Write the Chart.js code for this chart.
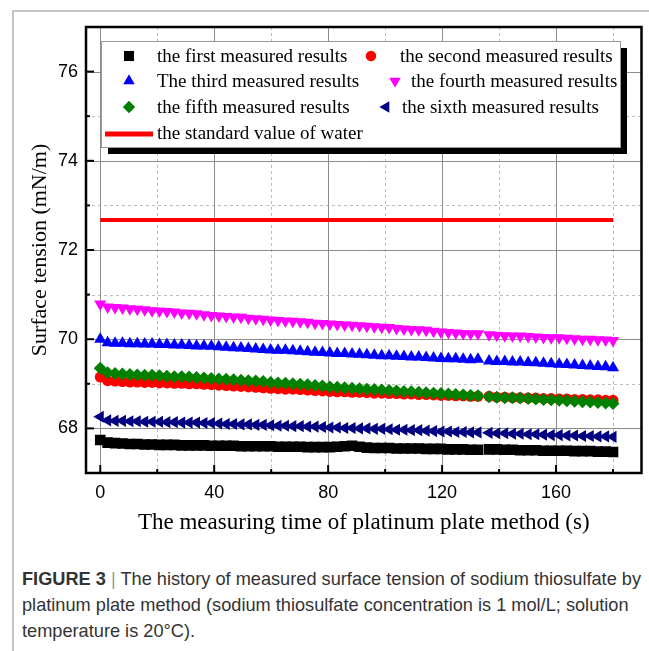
<!DOCTYPE html>
<html>
<head>
<meta charset="utf-8">
<script src="https://cdn.jsdelivr.net/npm/chart.js@4.4.1/dist/chart.umd.min.js"></script>
<style>
  html, body { margin: 0; padding: 0; background: #fff; }
  #frame {
    position: absolute; left: 12px; top: 10px; width: 637px; height: 641px;
    border-left: 2px solid #c4c4c4; border-top: 2px solid #c4c4c4;
  }
  #chart { position: absolute; left: 14px; top: 12px; }
  #caption {
    position: absolute; left: 22px; top: 566px; width: 627px;
    font-family: "Liberation Sans", Arial, sans-serif; font-size: 18.2px;
    line-height: 26px; color: #333; white-space: nowrap;
  }
  #caption b { color: #333; }
  #caption .bar { color: #999; }
</style>
</head>
<body>
<div id="frame"></div>
<canvas id="chart" width="635" height="540"></canvas>
<div id="caption"><b>FIGURE 3</b> <span class="bar">|</span> The history of measured surface tension of sodium thiosulfate by<br>platinum plate method (sodium thiosulfate concentration is 1 mol/L; solution<br>temperature is 20°C).</div>
<script>
// ------------------------------------------------------------
//  測定時間 (s) と各回の表面張力 (mN/m)
// ------------------------------------------------------------
const times = [
  0, 2.6, 5.2, 7.8, 10.4, 13, 15.6, 18.2, 20.8, 23.4,
  26, 28.6, 31.2, 33.8, 36.4, 39, 41.6, 44.2, 46.8, 49.4,
  52, 54.6, 57.2, 59.8, 62.4, 65, 67.6, 70.2, 72.8, 75.4,
  78, 80.6, 83.2, 85.8, 88.4, 91, 93.6, 96.2, 98.8, 101.4,
  104, 106.6, 109.2, 111.8, 114.4, 117, 119.6, 122.2, 124.8, 127.4,
  130, 132.6, 136.5, 139.2, 142, 144.7, 147.4, 150.2, 152.9, 155.6,
  158.3, 161.1, 163.8, 166.5, 169.3, 172, 174.7, 177.4, 180
];

const firstResults = [
  67.74, 67.68, 67.67, 67.66, 67.65, 67.65, 67.64, 67.64, 67.63, 67.63,
  67.63, 67.62, 67.62, 67.62, 67.62, 67.61, 67.61, 67.61, 67.61, 67.60,
  67.60, 67.60, 67.60, 67.60, 67.59, 67.59, 67.59, 67.59, 67.58, 67.58,
  67.58, 67.58, 67.59, 67.60, 67.61, 67.59, 67.57, 67.56, 67.56, 67.56,
  67.55, 67.55, 67.55, 67.55, 67.54, 67.54, 67.54, 67.53, 67.53, 67.53,
  67.52, 67.52, 67.53, 67.53, 67.52, 67.52, 67.51, 67.51, 67.51, 67.50,
  67.50, 67.50, 67.50, 67.49, 67.49, 67.49, 67.48, 67.48, 67.47
];

const secondResults = [
  69.15, 69.07, 69.06, 69.05, 69.04, 69.04, 69.03, 69.03, 69.02, 69.02,
  69.01, 69.01, 69.00, 69.00, 68.99, 68.98, 68.97, 68.96, 68.95, 68.94,
  68.93, 68.92, 68.91, 68.90, 68.89, 68.88, 68.88, 68.87, 68.86, 68.85,
  68.84, 68.83, 68.82, 68.82, 68.81, 68.81, 68.80, 68.79, 68.79, 68.78,
  68.78, 68.77, 68.77, 68.76, 68.76, 68.75, 68.74, 68.74, 68.73, 68.73,
  68.72, 68.72, 68.72, 68.70, 68.70, 68.69, 68.69, 68.68, 68.68, 68.67,
  68.67, 68.66, 68.66, 68.65, 68.65, 68.64, 68.64, 68.63, 68.63
];

const thirdResults = [
  70.00, 69.92, 69.91, 69.91, 69.90, 69.90, 69.89, 69.89, 69.88, 69.88,
  69.87, 69.87, 69.86, 69.85, 69.85, 69.84, 69.83, 69.82, 69.81, 69.80,
  69.79, 69.78, 69.77, 69.76, 69.75, 69.75, 69.74, 69.73, 69.72, 69.71,
  69.70, 69.69, 69.68, 69.68, 69.67, 69.66, 69.65, 69.64, 69.63, 69.63,
  69.62, 69.61, 69.60, 69.60, 69.59, 69.58, 69.57, 69.56, 69.56, 69.55,
  69.54, 69.55, 69.51, 69.50, 69.50, 69.49, 69.49, 69.48, 69.47, 69.46,
  69.45, 69.44, 69.43, 69.42, 69.41, 69.40, 69.39, 69.38, 69.36
];

const fourthResults = [
  70.79, 70.72, 70.71, 70.70, 70.68, 70.67, 70.66, 70.64, 70.63, 70.62,
  70.61, 70.59, 70.58, 70.57, 70.55, 70.53, 70.52, 70.51, 70.50, 70.49,
  70.47, 70.46, 70.45, 70.43, 70.42, 70.41, 70.40, 70.39, 70.38, 70.36,
  70.35, 70.34, 70.33, 70.32, 70.31, 70.30, 70.29, 70.28, 70.27, 70.26,
  70.24, 70.23, 70.22, 70.21, 70.20, 70.18, 70.16, 70.15, 70.14, 70.13,
  70.12, 70.12, 70.10, 70.09, 70.08, 70.07, 70.07, 70.06, 70.05, 70.04,
  70.03, 70.03, 70.02, 70.01, 70.00, 70.00, 69.99, 69.98, 69.97
];

const fifthResults = [
  69.35, 69.25, 69.23, 69.22, 69.21, 69.20, 69.19, 69.19, 69.18, 69.17,
  69.16, 69.16, 69.15, 69.14, 69.13, 69.12, 69.11, 69.10, 69.09, 69.08,
  69.07, 69.06, 69.05, 69.03, 69.02, 69.01, 69.00, 68.99, 68.98, 68.96,
  68.95, 68.93, 68.92, 68.91, 68.90, 68.89, 68.88, 68.87, 68.86, 68.85,
  68.84, 68.83, 68.82, 68.81, 68.80, 68.79, 68.78, 68.77, 68.76, 68.75,
  68.74, 68.73, 68.71, 68.70, 68.69, 68.69, 68.68, 68.67, 68.66, 68.65,
  68.64, 68.63, 68.62, 68.61, 68.60, 68.59, 68.58, 68.57, 68.56
];

const sixthResults = [
  68.26, 68.18, 68.17, 68.17, 68.16, 68.16, 68.15, 68.15, 68.15, 68.14,
  68.14, 68.13, 68.13, 68.13, 68.12, 68.12, 68.11, 68.10, 68.10, 68.09,
  68.09, 68.08, 68.08, 68.07, 68.06, 68.06, 68.05, 68.05, 68.04, 68.04,
  68.03, 68.02, 68.02, 68.01, 68.01, 68.00, 68.00, 67.99, 67.99, 67.98,
  67.97, 67.97, 67.96, 67.96, 67.95, 67.94, 67.93, 67.93, 67.92, 67.92,
  67.91, 67.91, 67.90, 67.89, 67.89, 67.88, 67.88, 67.87, 67.87, 67.86,
  67.85, 67.85, 67.84, 67.84, 67.83, 67.83, 67.82, 67.82, 67.81
];

// 水の標準値 (20°C)
const waterTimes  = [0, 180];
const waterValues = [72.67, 72.67];

// 目盛り
const xMajorTicks = [0, 40, 80, 120, 160];
const xMinorTicks = [20, 60, 100, 140, 180];
const yMajorTicks = [68, 70, 72, 74, 76];
const yMinorTicks = [69, 71, 73, 75];

const seriesLabels = [
  "the first measured results",
  "the second measured results",
  "The third measured results",
  "the fourth measured results",
  "the fifth measured results",
  "the sixth measured results",
];
const waterLabel = "the standard value of water";

// ------------------------------------------------------------
const toPoints = (xs, ys) => xs.map((x, i) => ({ x, y: ys[i] }));

const markerDefs = [
  { data: firstResults,  color: "#000000", style: "rect",     radius: 7.5, rotation: 0   },
  { data: secondResults, color: "#ff0000", style: "circle",   radius: 5.5, rotation: 0   },
  { data: thirdResults,  color: "#0000ff", style: "triangle", radius: 7,   rotation: 0   },
  { data: fourthResults, color: "#ff00ff", style: "triangle", radius: 7,   rotation: 180 },
  { data: fifthResults,  color: "#008000", style: "rectRot",  radius: 6.5, rotation: 0   },
  { data: sixthResults,  color: "#000080", style: "triangle", radius: 7,   rotation: 270 },
];

const datasets = markerDefs.map((m, i) => ({
  label: seriesLabels[i],
  data: toPoints(times, m.data),
  showLine: false,
  pointStyle: m.style,
  pointRadius: m.radius,
  pointRotation: m.rotation,
  pointBackgroundColor: m.color,
  pointBorderColor: m.color,
  pointBorderWidth: 0,
  pointHoverRadius: m.radius,
  order: 6 - i,               // 後の系列を上に描く (Origin と同じ)
}));

datasets.push({
  label: waterLabel,
  type: "line",
  data: toPoints(waterTimes, waterValues),
  borderColor: "#ff0000",
  borderWidth: 4,
  pointRadius: 0,
  fill: false,
  order: 0,
});

// ---------------- グリッド (主: 実線, 副: 破線) ----------------
const gridPlugin = {
  id: "originGrid",
  beforeDatasetsDraw(chart) {
    const { ctx, chartArea: a, scales: { x, y } } = chart;
    ctx.save();
    ctx.lineWidth = 1;
    const vline = v => { const p = Math.round(x.getPixelForValue(v)) + 0.5; ctx.beginPath(); ctx.moveTo(p, a.top); ctx.lineTo(p, a.bottom); ctx.stroke(); };
    const hline = v => { const p = Math.round(y.getPixelForValue(v)) + 0.5; ctx.beginPath(); ctx.moveTo(a.left, p); ctx.lineTo(a.right, p); ctx.stroke(); };
    ctx.strokeStyle = "#bdbdbd";
    ctx.setLineDash([3, 3]);
    xMinorTicks.forEach(vline);
    yMinorTicks.forEach(hline);
    ctx.strokeStyle = "#8c8c8c";
    ctx.setLineDash([]);
    xMajorTicks.forEach(vline);
    yMajorTicks.forEach(hline);
    ctx.restore();
  },
};

// ---------------- 枠と内向き目盛り ----------------
const framePlugin = {
  id: "originFrame",
  afterDatasetsDraw(chart) {
    const { ctx, chartArea: a, scales: { x, y } } = chart;
    ctx.save();
    ctx.strokeStyle = "#000";
    ctx.lineWidth = 2.5;
    ctx.strokeRect(a.left, a.top, a.right - a.left, a.bottom - a.top);
    ctx.lineWidth = 2;
    const xt = (v, len) => { const p = x.getPixelForValue(v); ctx.beginPath(); ctx.moveTo(p, a.bottom); ctx.lineTo(p, a.bottom - len); ctx.stroke(); };
    const yt = (v, len) => { const p = y.getPixelForValue(v); ctx.beginPath(); ctx.moveTo(a.left, p); ctx.lineTo(a.left + len, p); ctx.stroke(); };
    xMajorTicks.forEach(v => xt(v, 8));
    xMinorTicks.forEach(v => xt(v, 4));
    yMajorTicks.forEach(v => yt(v, 8));
    yMinorTicks.forEach(v => yt(v, 4));
    ctx.restore();
  },
};

// ---------------- 影付き 2 列凡例 ----------------
// 各項目の記号と文字の位置 (canvas 座標)
const legendSlots = [
  { mx: 115, tx: 143, y: 44 },
  { mx: 357, tx: 386, y: 44 },
  { mx: 115, tx: 143, y: 69 },
  { mx: 381, tx: 397, y: 69 },
  { mx: 115, tx: 143, y: 95 },
  { mx: 372, tx: 388, y: 95 },
];

const legendPlugin = {
  id: "originLegend",
  afterDraw(chart) {
    const ctx = chart.ctx;
    const box = { x: 87, y: 29, w: 519, h: 106 };
    ctx.save();
    ctx.fillStyle = "#000";
    ctx.fillRect(box.x + 7, box.y + 7, box.w, box.h);
    ctx.fillStyle = "#fff";
    ctx.fillRect(box.x, box.y, box.w, box.h);
    ctx.strokeStyle = "#9a9a9a";
    ctx.lineWidth = 1;
    ctx.strokeRect(box.x + 0.5, box.y + 0.5, box.w, box.h);

    ctx.font = "19px 'Liberation Serif', 'Times New Roman', serif";
    ctx.textBaseline = "middle";
    ctx.textAlign = "left";
    markerDefs.forEach((m, i) => {
      const s = legendSlots[i];
      ctx.fillStyle = m.color;
      ctx.strokeStyle = m.color;
      Chart.helpers.drawPoint(ctx, { pointStyle: m.style, radius: m.radius * 0.95, rotation: m.rotation, borderWidth: 0 }, s.mx, s.y);
      ctx.fillStyle = "#000";
      ctx.fillText(seriesLabels[i], s.tx, s.y + 1);
    });
    ctx.strokeStyle = "#ff0000";
    ctx.lineWidth = 5;
    ctx.beginPath();
    ctx.moveTo(91, 122);
    ctx.lineTo(139, 122);
    ctx.stroke();
    ctx.fillStyle = "#000";
    ctx.fillText(waterLabel, 143, 122);
    ctx.restore();
  },
};

new Chart(document.getElementById("chart"), {
  type: "scatter",
  data: { datasets },
  plugins: [gridPlugin, framePlugin, legendPlugin],
  options: {
    responsive: false,
    animation: false,
    layout: { padding: { left: 0, right: 6, top: 15, bottom: 0 } },
    scales: {
      x: {
        type: "linear",
        min: -5,
        max: 190,
        afterFit: s => { s.height = 79; s.paddingLeft = 0; s.paddingRight = 0; },
        afterBuildTicks: s => { s.ticks = xMajorTicks.map(v => ({ value: v })); },
        grid: { display: false, drawTicks: false },
        border: { display: false },
        ticks: {
          padding: 9,
          color: "#000",
          font: { family: "'Liberation Sans', Arial, sans-serif", size: 18 },
        },
        title: {
          display: true,
          text: "The measuring time of platinum plate method (s)",
          color: "#000",
          font: { family: "'Liberation Serif', 'Times New Roman', serif", size: 23 },
          padding: { top: 0, bottom: 15 },
        },
      },
      y: {
        type: "linear",
        min: 67,
        max: 77,
        afterFit: s => { s.width = 72; s.paddingTop = 0; s.paddingBottom = 0; },
        afterBuildTicks: s => { s.ticks = yMajorTicks.map(v => ({ value: v })); },
        grid: { display: false, drawTicks: false },
        border: { display: false },
        ticks: {
          padding: 8,
          color: "#000",
          font: { family: "'Liberation Sans', Arial, sans-serif", size: 18 },
        },
        title: {
          display: true,
          text: "Surface tension (mN/m)",
          color: "#000",
          font: { family: "'Liberation Serif', 'Times New Roman', serif", size: 22 },
          padding: { top: 13, bottom: 0 },
        },
      },
    },
    plugins: {
      legend: { display: false },
      tooltip: { enabled: false },
    },
  },
});
</script>
</body>
</html>
